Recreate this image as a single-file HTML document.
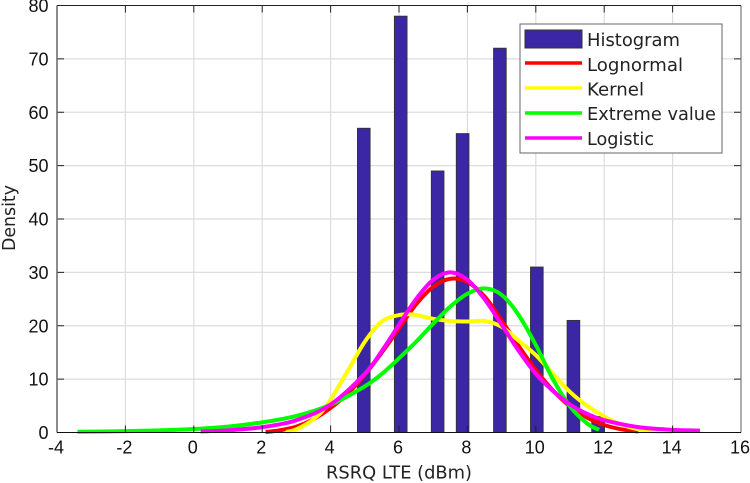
<!DOCTYPE html>
<html lang="en">
<head>
<meta charset="utf-8">
<title>RSRQ LTE density chart</title>
<style>
html,body{margin:0;padding:0;background:#fff;}
svg{display:block;font-family:"Liberation Sans",sans-serif;}
</style>
</head>
<body>
<svg id="chart" width="750" height="483" viewBox="0 0 750 483" xmlns="http://www.w3.org/2000/svg">
  <g id="grid"></g>
  <g id="bars"></g>
  <g id="curves"></g>
  <g id="axes"></g>
  <text x="399" y="478.5" text-anchor="middle" font-family="'DejaVu Sans',sans-serif" font-size="18" textLength="146" lengthAdjust="spacingAndGlyphs" fill="#222">RSRQ LTE (dBm)</text>
  <text transform="translate(15,218) rotate(-90)" text-anchor="middle" font-family="'DejaVu Sans',sans-serif" font-size="18" textLength="66" lengthAdjust="spacingAndGlyphs" fill="#222">Density</text>
  <g>
    <rect x="520" y="24" width="202" height="129" fill="#fff" stroke="#666" stroke-width="1"/>
    <rect x="525" y="30" width="57" height="18" fill="#3b27a3" stroke="#333" stroke-width="1"/>
    <line x1="525" x2="582" y1="63" y2="63" stroke="#ff0000" stroke-width="3.5"/>
    <line x1="525" x2="582" y1="88" y2="88" stroke="#ffff00" stroke-width="3.5"/>
    <line x1="525" x2="582" y1="113" y2="113" stroke="#00ff00" stroke-width="3.5"/>
    <line x1="525" x2="582" y1="138" y2="138" stroke="#ff00ff" stroke-width="3.5"/>
    <g font-family="'DejaVu Sans',sans-serif" font-size="18" fill="#222">
      <text x="587" y="46" textLength="93" lengthAdjust="spacingAndGlyphs">Histogram</text>
      <text x="587" y="71" textLength="96" lengthAdjust="spacingAndGlyphs">Lognormal</text>
      <text x="587" y="95.5" textLength="57" lengthAdjust="spacingAndGlyphs">Kernel</text>
      <text x="587" y="120" textLength="129" lengthAdjust="spacingAndGlyphs">Extreme value</text>
      <text x="587" y="145" textLength="67" lengthAdjust="spacingAndGlyphs">Logistic</text>
    </g>
  </g>
</svg>
<script>
const xTickLabels = [-4,-2,0,2,4,6,8,10,12,14,16];
const yTickLabels = [0,10,20,30,40,50,60,70,80];

const histogramCenters = [4.97,6.05,7.13,7.86,8.95,10.03,11.1,11.82];
const histogramValues = [57,78,49,56,72,31,21,3];

const lognormalX = [2.1,2.5,3,3.5,4,4.5,5,5.5,6,6.5,7,7.5,8,8.5,9,9.5,10,10.5,11,11.5,12,12.5,13];
const lognormalY = [0.1,0.4,1.1,2.5,4.6,7.3,10.8,15,19.5,24,27.3,28.8,28.2,25.5,21,16.2,11.7,7.9,4.9,2.8,1.4,0.6,0.2];

const kernelX = [2.7,3,3.5,3.9,4.5,5,5.5,6,6.4,7,7.5,8,8.5,9,9.5,10,10.5,11,11.5,12,12.5,13,13.5,14];
const kernelY = [0.1,0.6,2.5,5.2,11.5,17,20.8,22,22.1,21.3,20.9,20.8,20.9,19.8,17.2,14.5,11,7.6,5,3,1.5,0.6,0.2,0.1];

const extremeX = [-3.4,-3,-2,-1,0,1,2,3,4,5,5.5,6,6.5,7,7.5,8,8.5,9,9.5,10,10.5,11,11.5,11.85];
const extremeY = [0.15,0.17,0.25,0.4,0.65,1.1,1.9,3.1,5.2,8.66,11,13.9,17,20.4,23.6,26,27,25.8,22,16.4,10,4.9,1.7,0.5];

const logisticX = [0.2,1,2,3,4,5,5.5,6,6.5,7,7.5,8,8.5,9,9.5,10,10.5,11,11.5,12,13,14,14.8];
const logisticY = [0.2,0.41,1,2.3,5.25,11,15.3,20.2,25,28.6,30,28.6,25,20.2,15.3,11,7.8,5.25,3.5,2.3,1,0.5,0.35];

const NS = 'http://www.w3.org/2000/svg';
const X_MIN = -4, X_MAX = 16, Y_MIN = 0, Y_MAX = 80;
const LEFT = 57, RIGHT = 741, TOP = 5.5, BOTTOM = 432.5;
const BAR_WIDTH = 0.37;

function xScale(v){ return LEFT + (v - X_MIN) / (X_MAX - X_MIN) * (RIGHT - LEFT); }
function yScale(v){ return BOTTOM - (v - Y_MIN) / (Y_MAX - Y_MIN) * (BOTTOM - TOP); }

function make(tag, parent, attrs){
  const el = document.createElementNS(NS, tag);
  for (const k in attrs) el.setAttribute(k, attrs[k]);
  parent.appendChild(el);
  return el;
}

const grid = document.getElementById('grid');
const bars = document.getElementById('bars');
const curves = document.getElementById('curves');
const axes = document.getElementById('axes');

xTickLabels.forEach(function(t){
  const px = xScale(t);
  if (t !== X_MIN && t !== X_MAX) {
    const g = make('line', grid, {x1:px, x2:px, y1:TOP, y2:BOTTOM, stroke:'#dcdcdc', 'stroke-width':1.2});
    
    
    const t1 = make('line', axes, {x1:px, x2:px, y1:BOTTOM, y2:BOTTOM-7, stroke:'#222', 'stroke-width':1});
    
    
    const t2 = make('line', axes, {x1:px, x2:px, y1:TOP, y2:TOP+7, stroke:'#222', 'stroke-width':1});
    
    
  }
  const label = make('text', axes, {x:px-1, y:453.5, 'text-anchor':'middle', 'font-size':18, fill:'#111'});
  label.textContent = String(t);
  
  
});

yTickLabels.forEach(function(t){
  const py = yScale(t);
  if (t !== Y_MIN && t !== Y_MAX) {
    const g = make('line', grid, {x1:LEFT, x2:RIGHT, y1:py, y2:py, stroke:'#dcdcdc', 'stroke-width':1.2});
    
    
    const t1 = make('line', axes, {x1:LEFT, x2:LEFT+7, y1:py, y2:py, stroke:'#222', 'stroke-width':1});
    
    
    const t2 = make('line', axes, {x1:RIGHT, x2:RIGHT-7, y1:py, y2:py, stroke:'#222', 'stroke-width':1});
    
    
  }
  const label = make('text', axes, {x:48.5, y:py+6.5, 'text-anchor':'end', 'font-size':18, fill:'#111'});
  label.textContent = String(t);
  
  
});

histogramValues.forEach(function(v, i){
  const x0 = xScale(histogramCenters[i] - BAR_WIDTH / 2);
  const x1 = xScale(histogramCenters[i] + BAR_WIDTH / 2);
  const r = make('rect', bars, {x:x0, y:yScale(v), width:x1-x0, height:yScale(0)-yScale(v), fill:'#3b27a3', stroke:'#333', 'stroke-width':0.9});
  
  
});

function smoothPath(xs, ys){
  const p = xs.map(function(x, i){ return [xScale(x), yScale(ys[i])]; });
  let d = 'M' + p[0][0].toFixed(2) + ' ' + p[0][1].toFixed(2);
  for (let i = 0; i < p.length - 1; i++) {
    const a = p[Math.max(i-1,0)], b = p[i], c = p[i+1], e = p[Math.min(i+2,p.length-1)];
    const c1x = b[0] + (c[0]-a[0]) / 6, c1y = b[1] + (c[1]-a[1]) / 6;
    const c2x = c[0] - (e[0]-b[0]) / 6, c2y = c[1] - (e[1]-b[1]) / 6;
    d += 'C' + c1x.toFixed(2) + ' ' + c1y.toFixed(2) + ' ' + c2x.toFixed(2) + ' ' + c2y.toFixed(2) + ' ' + c[0].toFixed(2) + ' ' + c[1].toFixed(2);
  }
  return d;
}

function curveAttrs(color, xs, ys){
  return {d:smoothPath(xs, ys), fill:'none', stroke:color, 'stroke-width':4, 'stroke-linejoin':'round'};
}

const lognormalCurve = make('path', curves, curveAttrs('#ff0000', lognormalX, lognormalY));



const kernelCurve = make('path', curves, curveAttrs('#ffff00', kernelX, kernelY));



const extremeCurve = make('path', curves, curveAttrs('#00ff00', extremeX, extremeY));



const logisticCurve = make('path', curves, curveAttrs('#ff00ff', logisticX, logisticY));



const axisLeft = make('line', axes, {x1:LEFT, x2:LEFT, y1:TOP, y2:BOTTOM, stroke:'#666', 'stroke-width':1.5});



const axisRight = make('line', axes, {x1:RIGHT, x2:RIGHT, y1:TOP, y2:BOTTOM, stroke:'#777', 'stroke-width':1.2});



const axisTop = make('line', axes, {x1:LEFT, x2:RIGHT, y1:TOP, y2:TOP, stroke:'#222', 'stroke-width':1});



const axisBottom = make('line', axes, {x1:LEFT, x2:RIGHT, y1:BOTTOM, y2:BOTTOM, stroke:'#111', 'stroke-width':1});


</script>
</body>
</html>
